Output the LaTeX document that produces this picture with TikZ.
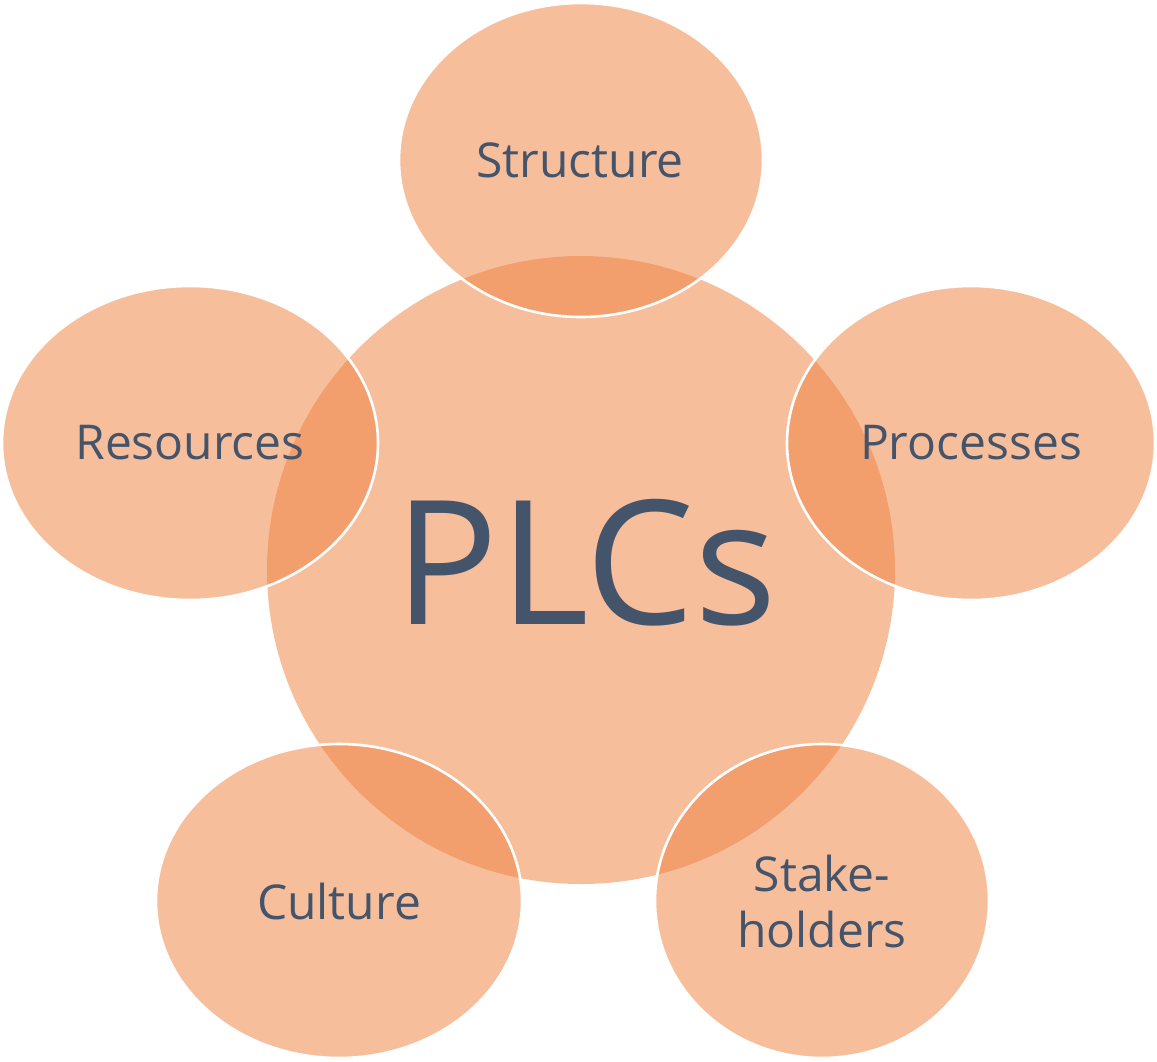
\documentclass[tikz,border=0pt]{standalone}
\usepackage{fontspec}
\setmainfont{Open Sans}
\definecolor{petal}{RGB}{240,131,66}
\definecolor{ink}{RGB}{68,84,106}
\begin{document}
\begin{tikzpicture}[x=1pt,y=-1pt,
  hub/.style={fill=petal,fill opacity=0.52,draw=none},
  petalshape/.style={fill=petal,fill opacity=0.52,draw=white,draw opacity=1,line width=2.6pt},
  lbl/.style={text=ink,font=\fontsize{48}{56}\selectfont,align=center,inner sep=0pt}]
\useasboundingbox (0,0) rectangle (1157,1061);
\fill[hub] (581,570) circle (314);
\path[petalshape] (581,160) ellipse [x radius=182, y radius=157];
\path[petalshape] (190,443) ellipse [x radius=188, y radius=157];
\path[petalshape] (971,443) ellipse [x radius=184, y radius=157];
\path[petalshape] (339,901) ellipse [x radius=183, y radius=157];
\path[petalshape] (822,901) ellipse [x radius=167, y radius=157];
\node[text=ink,font=\fontsize{173}{173}\selectfont,inner sep=0pt] (plcs) at (586,563) {PLCs};
\node[lbl] (structure) at (580,160) {Structure};
\node[lbl] (resources) at (190,443) {Resources};
\node[lbl] (processes) at (971,443) {Processes};
\node[lbl] (culture) at (339,901) {Culture};
\node[lbl] (stake) at (822,901) {Stake-\\holders};
\end{tikzpicture}
\end{document}
